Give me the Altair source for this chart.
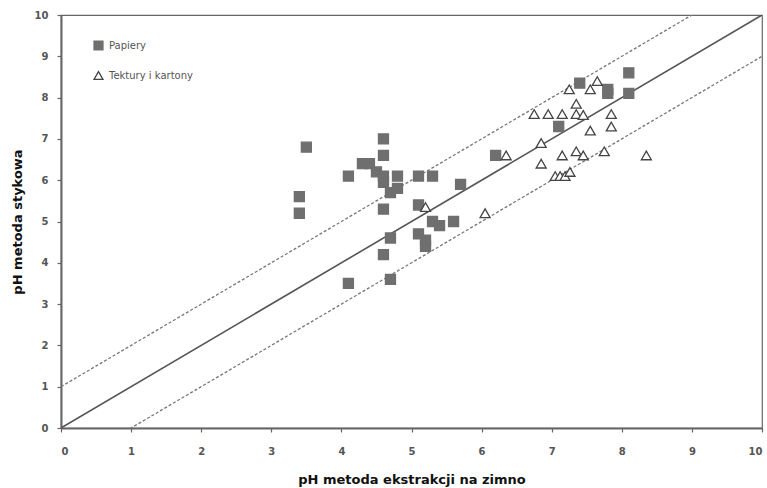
import altair as alt
import pandas as pd

papiery_x = [3.4, 3.4, 3.5, 4.1, 4.1, 4.3, 4.4, 4.5, 4.6, 4.6, 4.6, 4.6, 4.6, 4.6, 4.7, 4.7, 4.7,
             4.8, 4.8, 5.1, 5.1, 5.1, 5.2, 5.2, 5.3, 5.3, 5.4, 5.6, 5.7, 6.2, 7.1, 7.4, 7.8, 7.8, 8.1, 8.1]
papiery_y = [5.6, 5.2, 6.8, 6.1, 3.5, 6.4, 6.4, 6.2, 7.0, 6.6, 6.1, 5.95, 5.3, 4.2, 5.7, 4.6, 3.6,
             6.1, 5.8, 6.1, 5.4, 4.7, 4.55, 4.4, 6.1, 5.0, 4.9, 5.0, 5.9, 6.6, 7.3, 8.35, 8.2, 8.1, 8.6, 8.1]

tektury_x = [5.2, 6.05, 6.35, 6.85, 6.85, 6.75, 6.95, 7.15, 7.15, 7.05, 7.12, 7.19, 7.26, 7.25,
             7.35, 7.35, 7.45, 7.35, 7.45, 7.55, 7.55, 7.65, 7.75, 7.85, 7.85, 8.35]
tektury_y = [5.35, 5.2, 6.6, 6.9, 6.4, 7.6, 7.6, 7.6, 6.6, 6.1, 6.1, 6.1, 6.2, 8.2,
             7.85, 7.6, 7.58, 6.7, 6.6, 8.2, 7.2, 8.4, 6.7, 7.6, 7.3, 6.6]

series_names = ["Papiery", "Tektury i kartony"]

line_x = [0, 10]
line_offsets = [0, 1, -1]
line_kind = ["solid", "dashed", "dashed"]

pts = pd.DataFrame(
    [{"x": a, "y": b, "s": series_names[0]} for a, b in zip(papiery_x, papiery_y)]
    + [{"x": a, "y": b, "s": series_names[1]} for a, b in zip(tektury_x, tektury_y)]
)

lines = pd.DataFrame(
    [{"x": xx, "y": xx + off, "id": i, "kind": k}
     for i, (off, k) in enumerate(zip(line_offsets, line_kind)) for xx in line_x]
)

FONT = "DejaVu Sans"
xs = alt.Scale(domain=[0, 10], nice=False, zero=False)
ys = alt.Scale(domain=[0, 10], nice=False, zero=False)

x_axis = alt.Axis(title="pH metoda ekstrakcji na zimno", values=list(range(11)), format="d",
                  grid=False, tickSize=4, labelPadding=14, titlePadding=17)
y_axis = alt.Axis(title="pH metoda stykowa", values=list(range(11)), format="d", grid=False,
                  tickSize=4, labelPadding=9, titlePadding=10)

solid = alt.Chart(lines).transform_filter(alt.datum.kind == "solid").mark_line(
    color="#555555", strokeWidth=1.6, clip=True
).encode(
    x=alt.X("x:Q", scale=xs, axis=x_axis),
    y=alt.Y("y:Q", scale=ys, axis=y_axis),
    detail="id:N",
)

dashed = alt.Chart(lines).transform_filter(alt.datum.kind == "dashed").mark_line(
    color="#777777", strokeWidth=1.3, strokeDash=[3, 2], clip=True
).encode(
    x=alt.X("x:Q", scale=xs),
    y=alt.Y("y:Q", scale=ys),
    detail="id:N",
)

legend = alt.Legend(title=None, orient="none", legendX=32, legendY=25, padding=0,
                    rowPadding=16, labelFont=FONT, labelFontSize=10, labelColor="#555555",
                    symbolStrokeWidth=1.3, labelOffset=5, symbolSize=80)

points = alt.Chart(pts).mark_point(size=100, filled=False, strokeWidth=1.3, opacity=1).encode(
    x=alt.X("x:Q", scale=xs),
    y=alt.Y("y:Q", scale=ys),
    shape=alt.Shape("s:N", scale=alt.Scale(domain=series_names, range=["square", "triangle-up"]),
                    legend=legend),
    fill=alt.Fill("s:N", scale=alt.Scale(domain=series_names, range=["#6f6f6f", "#ffffff"]),
                  legend=legend),
    stroke=alt.Stroke("s:N", scale=alt.Scale(domain=series_names, range=["#6f6f6f", "#444444"]),
                      legend=legend),
)

chart = alt.layer(dashed, solid, points).properties(
    width=701, height=413,
    autosize=alt.AutoSizeParams(type="none"),
    padding={"left": 61, "top": 15, "right": 5, "bottom": 60},
    background="white",
).configure_view(
    stroke="#666666", strokeWidth=1.2
).configure_axis(
    domainColor="#666666", domainWidth=2, tickColor="#666666", tickWidth=1.2,
    labelFont=FONT, labelFontSize=10, labelColor="#555555", labelFontWeight="bold",
    titleFont=FONT, titleFontSize=13, titleFontWeight="bold", titleColor="#111111",
)

chart.save("out.html", embed_options={"renderer": "svg", "actions": False})
